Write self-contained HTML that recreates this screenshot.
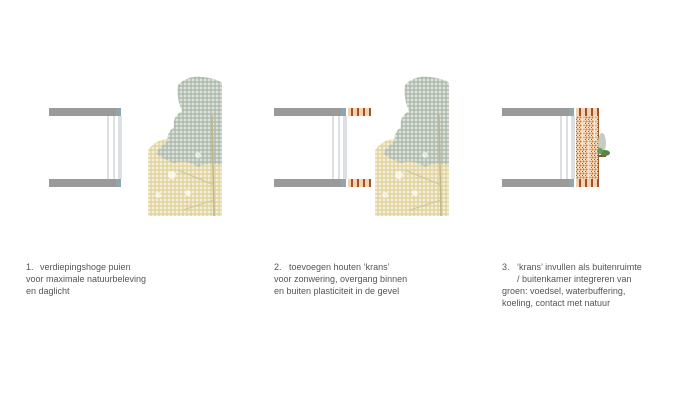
<!DOCTYPE html>
<html><head><meta charset="utf-8"><style>
html,body{margin:0;padding:0;background:#fff;width:686px;height:400px;overflow:hidden}
svg{display:block}
text{font-family:"Liberation Sans",sans-serif;font-size:9px;fill:#555}
</style></head><body>
<svg width="686" height="400" viewBox="0 0 686 400" xmlns="http://www.w3.org/2000/svg">
<defs>
<pattern id="dots" width="4" height="4" patternUnits="userSpaceOnUse">
  <rect width="4" height="4" fill="#e6dcb0"/>
  <circle cx="1" cy="1" r="1" fill="#f8f5e8"/>
  <circle cx="3" cy="3" r=".8" fill="#d6c98e"/>
</pattern>
<pattern id="gdots" width="4" height="4" patternUnits="userSpaceOnUse">
  <rect width="4" height="4" fill="#bcc6bb"/>
  <circle cx="1" cy="1" r="1" fill="#e8ece6"/>
  <circle cx="3" cy="3" r=".8" fill="#9fae9f"/>
</pattern>
<pattern id="odots" width="3" height="4" patternUnits="userSpaceOnUse">
  <rect width="3" height="4" fill="#f6e7d6"/>
  <circle cx="1.5" cy="1.5" r="1.1" fill="#d67a2a"/>
  <circle cx="0.5" cy="3.5" r=".6" fill="#a8521c"/>
</pattern>
<g id="tree">
  <path d="M0 75 Q10 62 25 64 Q40 56 55 60 L74 58 L74 141 L0 141 Z" fill="url(#dots)"/>
  <path d="M30 10 Q40 0 55 2 Q70 4 74 8 L74 90 Q60 86 50 92 Q38 84 26 88 Q14 84 8 78 Q14 70 20 66 Q18 58 26 52 Q24 42 34 36 Q28 22 30 10 Z" fill="url(#gdots)"/>
  <line x1="64" y1="40" x2="66" y2="141" stroke="#c2b48a" stroke-width="1.5"/>
  <line x1="66" y1="110" x2="30" y2="95" stroke="#d0c59e" stroke-width="1"/>
  <line x1="66" y1="125" x2="35" y2="135" stroke="#d0c59e" stroke-width="1"/>
  <circle cx="24" cy="100" r="4" fill="#fff" opacity=".7"/>
  <circle cx="40" cy="118" r="3" fill="#fff" opacity=".7"/>
  <circle cx="10" cy="120" r="3" fill="#fff" opacity=".6"/>
  <circle cx="50" cy="80" r="3" fill="#fff" opacity=".6"/>
</g>
<g id="bldg">
  <rect x="0" y="0" width="67" height="8" fill="#9a9a9a"/>
  <rect x="0" y="71" width="67" height="8" fill="#9a9a9a"/>
  <rect x="67" y="0" width="5" height="8" fill="#8fa6ad"/>
  <rect x="67" y="71" width="5" height="8" fill="#8fa6ad"/>
  <g stroke="#a9b2b8" stroke-width=".8" fill="none">
    <line x1="59" y1="8" x2="59" y2="71"/><line x1="65" y1="8" x2="65" y2="71"/>
    <line x1="70" y1="8" x2="70" y2="71"/><line x1="72" y1="8" x2="72" y2="71"/>
  </g>
</g>
<g id="krans">
  <rect x="0" y="0" width="23" height="8" fill="#f3d2b0"/>
  <rect x="3" y="0" width="2" height="8" fill="#a0532a"/>
  <rect x="9" y="0" width="2" height="8" fill="#a0532a"/>
  <rect x="15" y="0" width="2" height="8" fill="#a0532a"/>
  <rect x="21" y="0" width="2" height="8" fill="#a0532a"/>
</g>
</defs>

<use href="#bldg" x="49" y="108"/>
<use href="#tree" x="148" y="75"/>

<use href="#bldg" x="274" y="108"/>
<use href="#krans" x="348" y="108"/>
<use href="#krans" x="348" y="179"/>
<use href="#tree" x="375" y="75"/>

<use href="#bldg" x="502" y="108"/>
<use href="#krans" x="576" y="108"/>
<use href="#krans" x="576" y="179"/>
<rect x="576" y="116" width="22" height="63" fill="url(#odots)"/>
<g fill="#faf3ea" opacity=".8">
  <rect x="582" y="116" width="1.5" height="30"/>
  <rect x="588" y="140" width="1.5" height="39"/>
  <rect x="594" y="116" width="1.5" height="25"/>
</g>
<rect x="598" y="116" width="1" height="63" fill="#9c5a2a"/>
<rect x="598" y="155" width="8" height="2" fill="#7a5a3a"/>
<ellipse cx="602" cy="143" rx="4" ry="10" fill="#c5cdc2"/>
<ellipse cx="605" cy="153" rx="5" ry="3" fill="#4f8a45"/>
<ellipse cx="600" cy="151" rx="3" ry="3" fill="#6a9a5a"/>

<text x="26" y="270">1.<tspan x="40">verdiepingshoge puien</tspan></text>
<text x="26" y="282">voor maximale natuurbeleving</text>
<text x="26" y="294">en daglicht</text>

<text x="274" y="270">2.<tspan x="289">toevoegen houten ‘krans’</tspan></text>
<text x="274" y="282">voor zonwering, overgang binnen</text>
<text x="274" y="294">en buiten plasticiteit in de gevel</text>

<text x="502" y="270">3.<tspan x="517">‘krans’ invullen als buitenruimte</tspan></text>
<text x="517" y="282">/ buitenkamer integreren van</text>
<text x="502" y="294">groen: voedsel, waterbuffering,</text>
<text x="502" y="306">koeling, contact met natuur</text>
</svg>
</body></html>
